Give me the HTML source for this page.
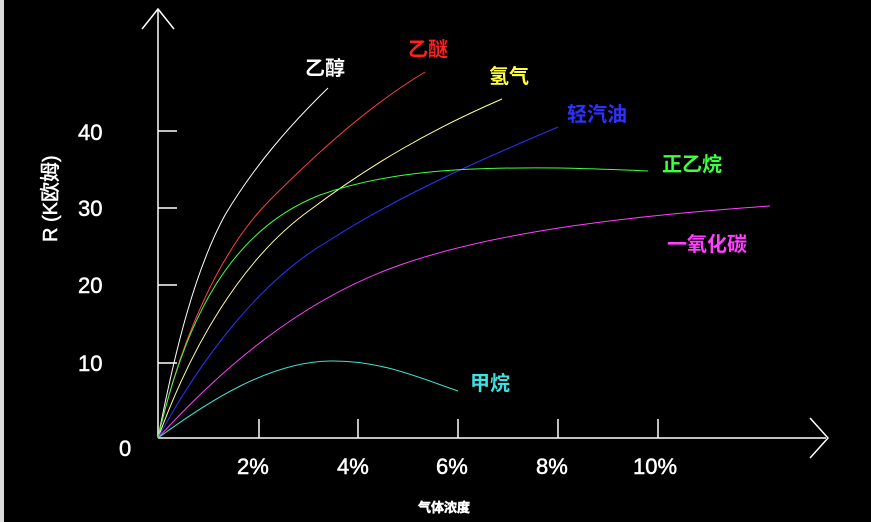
<!DOCTYPE html><html><head><style>body{margin:0;background:#000}svg{display:block}text{font-family:"Liberation Sans","Noto Sans CJK SC",sans-serif}</style></head><body>
<svg width="871" height="522" viewBox="0 0 871 522">
<rect width="871" height="522" fill="#000"/>
<rect x="0" y="0" width="4" height="522" fill="#ddd"/>
<g stroke="#fff" stroke-width="1.5" fill="none">
<line x1="158" y1="438" x2="158" y2="10"/><polyline points="142,29 158,9 174,29"/>
<line x1="158" y1="438" x2="826" y2="438"/><polyline points="810,418 828,438 810,458"/>
<line x1="158" y1="131" x2="177" y2="131"/><line x1="158" y1="208" x2="177" y2="208"/><line x1="158" y1="285" x2="177" y2="285"/><line x1="158" y1="363" x2="177" y2="363"/>
<line x1="259" y1="438" x2="259" y2="419"/><line x1="358" y1="438" x2="358" y2="419"/><line x1="458" y1="438" x2="458" y2="419"/><line x1="558" y1="438" x2="558" y2="419"/><line x1="658" y1="438" x2="658" y2="419"/>
</g>
<g fill="none" stroke-width="1">
<path d="M158,438 C175,350 195,270 225,215 C255,165 290,125 328,88" stroke="#fff"/>
<path d="M158,438 C180,340 220,250 270,200 C320,150 370,105 425,72" stroke="#ff4040"/>
<path d="M158,438 C190,350 240,260 310,210 C370,165 430,130 502,99" stroke="#ffff99"/>
<path d="M158,438 C200,360 260,280 330,240 C400,195 480,160 558,127" stroke="#3030ff"/>
<path d="M158,438 C185,320 230,230 320,195 C390,170 470,167 560,168 C600,169 630,170 648,171" stroke="#40ff40"/>
<path d="M158,438 C220,370 300,300 400,265 C500,230 640,215 770,206" stroke="#ff40ff"/>
<path d="M158,438 C210,400 270,362 330,361 C380,360 420,378 458,391" stroke="#40e0d0"/>
</g>
<g font-size="22" fill="#fff" stroke="#fff" stroke-width="0.5">
<text x="78" y="140">40</text><text x="78" y="216">30</text><text x="78" y="293">20</text><text x="78" y="371">10</text><text x="119" y="456">0</text>
<text x="237" y="474">2%</text><text x="337" y="474">4%</text><text x="436" y="474">6%</text><text x="536" y="474">8%</text><text x="633" y="474">10%</text>
<text transform="translate(57,242) rotate(-90)" font-size="20">R (K欧姆)</text>
<text x="418" y="512" font-size="13" font-weight="bold">气体浓度</text>
</g>
<g font-size="20" font-weight="bold">
<text x="305" y="75" fill="#fff">乙醇</text>
<text x="408" y="56" fill="#ff2020">乙醚</text>
<text x="489" y="83" fill="#ffff40">氢气</text>
<text x="567" y="121" fill="#3030ff">轻汽油</text>
<text x="662" y="171" fill="#40ff40">正乙烷</text>
<text x="667" y="251" fill="#ff40ff">一氧化碳</text>
<text x="470" y="390" fill="#40e0e0">甲烷</text>
</g>
</svg></body></html>
